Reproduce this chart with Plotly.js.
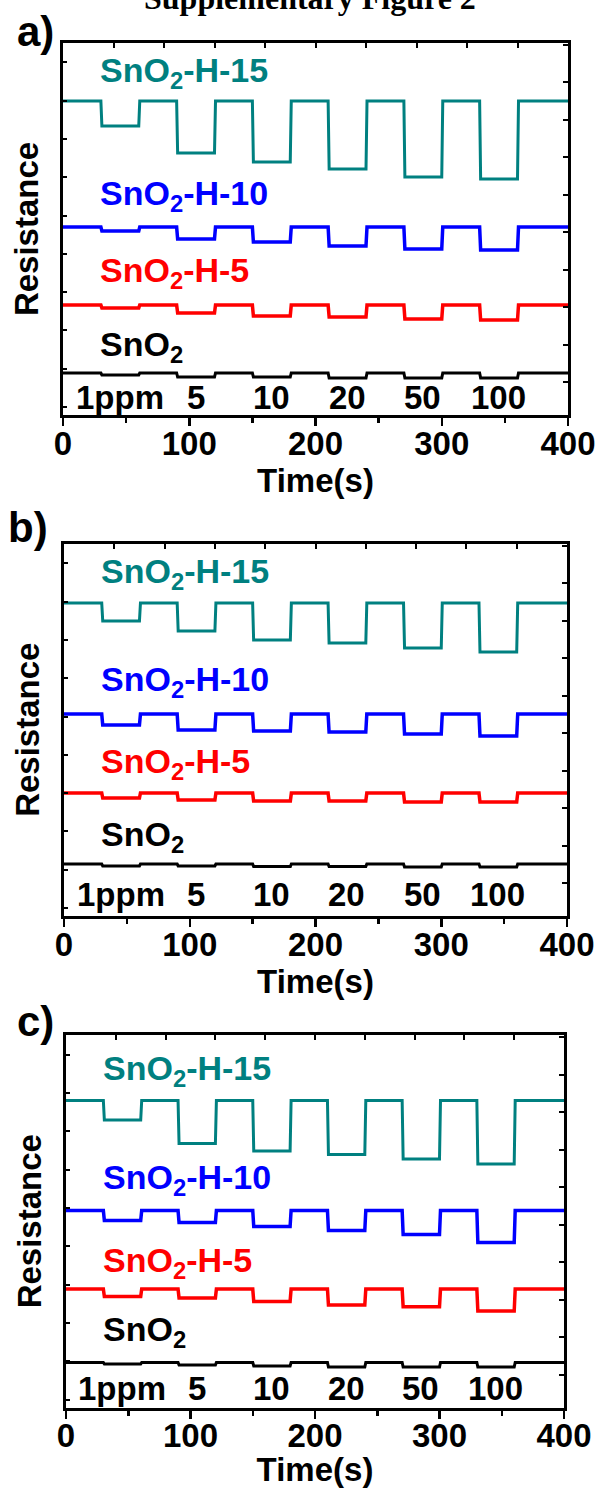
<!DOCTYPE html>
<html><head><meta charset="utf-8">
<script src="https://cdn.plot.ly/plotly-3.0.1.min.js"></script>
<style>html,body{margin:0;padding:0;background:#fff}#chart{width:598px;height:1488px}</style>
</head><body><div id="chart"></div>
<script>
// ---------- data ----------
const gasOn  = [30, 90, 150, 210, 270, 330];      // gas in (s)
const gasOff = [60, 120, 180, 240, 300, 360];     // gas out (s)
const timeEnd = 400;
const concLabels = ['1ppm', '5', '10', '20', '50', '100'];
const sampleNames = ['SnO<sub>2</sub>-H-15', 'SnO<sub>2</sub>-H-10', 'SnO<sub>2</sub>-H-5', 'SnO<sub>2</sub>'];
const panelTags = ['a)', 'b)', 'c)'];

// resistance (arbitrary units) : baseline in air, then level under each concentration
const aBase = [314, 188, 110, 42];
const aH15 = [289, 262, 253, 246, 238, 236];
const aH10 = [184, 176, 173, 169, 166, 165];
const aH5  = [107, 102, 99, 98, 96, 95];
const aSnO2 = [40, 38, 38, 37, 37, 37];

const bBase = [313, 202, 123, 52];
const bH15 = [295, 285, 276, 273, 268, 264];
const bH10 = [191, 186, 185, 184, 182, 180];
const bH5  = [118, 116, 115, 115, 114, 114];
const bSnO2 = [50, 50, 49.5, 49.5, 49, 49];

const cBase = [307, 197, 118.5, 45];
const cH15 = [287.5, 264, 256.5, 253, 248.5, 243.5];
const cH10 = [187, 185, 181, 177, 173, 165];
const cH5  = [111, 109.5, 106, 102.5, 100.7, 96.5];
const cSnO2 = [43.5, 42.5, 41.5, 40.5, 40.5, 40.5];

// label heights (same units)
const aLabelY = [343, 220, 143, 69, 18];
const bLabelY = [343, 235, 153, 80, 22];
const cLabelY = [337, 228, 145, 76, 19];

// ---------- styling ----------
const W = 598, H = 1488;
const colors = ['#008080', '#0000ff', '#ff0000', '#000000'];
const widths = [3, 3.5, 3.5, 3];
const SANS = 'Liberation Sans, Arial, sans-serif';
const panels = [
  {left: 63, right: 568, top: 43, bottom: 415, base: aBase, lows: [aH15, aH10, aH5, aSnO2], labelY: aLabelY, tagX: 35, tagY: 32},
  {left: 64, right: 567, top: 543.5, bottom: 916, base: bBase, lows: [bH15, bH10, bH5, bSnO2], labelY: bLabelY, tagX: 28, tagY: 527},
  {left: 66, right: 564, top: 1035, bottom: 1407.5, base: cBase, lows: [cH15, cH10, cH5, cSnO2], labelY: cLabelY, tagX: 35, tagY: 1022}
];
const edge = 0.8;

function stepTrace(base, lows) {
  const x = [0], y = [base];
  for (let i = 0; i < gasOn.length; i++) {
    x.push(gasOn[i], gasOn[i] + edge, gasOff[i], gasOff[i] + edge);
    y.push(base, lows[i], lows[i], base);
  }
  x.push(timeEnd); y.push(base);
  return {x, y};
}

const data = [];
const layout = {
  width: W, height: H,
  margin: {l: 0, r: 0, t: 0, b: 0},
  paper_bgcolor: '#fff', plot_bgcolor: '#fff',
  showlegend: false,
  annotations: [],
  font: {family: SANS, color: '#000'}
};

layout.annotations.push({
  text: '<b>Supplementary Figure 2</b>', xref: 'paper', yref: 'paper',
  x: 310 / W, y: 1 - 18 / H, xanchor: 'center', yanchor: 'bottom', showarrow: false,
  font: {family: 'Liberation Serif, Times New Roman, serif', size: 32, color: '#000'}
});

panels.forEach((p, i) => {
  const n = i + 1;
  const xs = n === 1 ? '' : String(n);
  const xId = 'x' + xs, yId = 'y' + xs;
  const topId = 'x' + (n + 3), rightId = 'y' + (n + 3);
  const yTop = p.bottom - p.top;

  p.lows.forEach((lows, k) => {
    const s = stepTrace(p.base[k], lows);
    data.push({
      type: 'scatter', mode: 'lines', x: s.x, y: s.y, xaxis: xId, yaxis: yId,
      name: sampleNames[k].replace(/<\/?sub>/g, ''),
      line: {color: colors[k], width: widths[k], shape: 'linear'}, hoverinfo: 'skip'
    });
    layout.annotations.push({
      text: '<b>' + sampleNames[k] + '</b>', xref: xId, yref: yId,
      x: 28, y: p.labelY[k], xanchor: 'left', yanchor: 'middle', showarrow: false,
      font: {family: SANS, size: 34, color: colors[k]}
    });
  });
  // empty traces so the extra top / right tick axes get drawn
  data.push({type: 'scatter', mode: 'lines', x: [], y: [], xaxis: topId, yaxis: yId, showlegend: false, hoverinfo: 'skip'});
  data.push({type: 'scatter', mode: 'lines', x: [], y: [], xaxis: xId, yaxis: rightId, showlegend: false, hoverinfo: 'skip'});

  concLabels.forEach((c, j) => {
    layout.annotations.push({
      text: '<b>' + c + '</b>', xref: xId, yref: yId,
      x: (gasOn[j] + gasOff[j]) / 2, y: p.labelY[4], xanchor: 'center', yanchor: 'middle', showarrow: false,
      font: {family: SANS, size: 33, color: '#000'}
    });
  });

  layout.annotations.push({
    text: '<b>' + panelTags[i] + '</b>', xref: 'paper', yref: 'paper',
    x: p.tagX / W, y: 1 - p.tagY / H, xanchor: 'center', yanchor: 'middle', showarrow: false,
    font: {family: SANS, size: 42, color: '#000'}
  });

  const xDom = [p.left / W, p.right / W];
  const yDom = [1 - p.bottom / H, 1 - p.top / H];

  layout['xaxis' + xs] = {
    domain: xDom, range: [0, timeEnd], anchor: yId,
    showline: true, linewidth: 3, linecolor: '#000', mirror: true,
    ticks: 'outside', ticklen: 8, tickwidth: 2.5, tickcolor: '#000',
    tick0: 0, dtick: 100, ticklabelstandoff: -11,
    minor: {ticks: 'outside', dtick: 50, ticklen: 5, tickwidth: 2.5, tickcolor: '#000'},
    tickfont: {family: SANS, size: 33, weight: 'bold', color: '#000'},
    showgrid: false, zeroline: false, fixedrange: true,
    title: {text: 'Time(s)', font: {family: SANS, size: 33, weight: 'bold', color: '#000'}, standoff: 0}
  };
  layout['yaxis' + xs] = {
    domain: yDom, range: [0, yTop], anchor: xId,
    showline: true, linewidth: 3, linecolor: '#000', mirror: true,
    ticks: 'inside', ticklen: 4, tickwidth: 2, tickcolor: '#000',
    tick0: 8, dtick: 38.3, showticklabels: false,
    showgrid: false, zeroline: false, fixedrange: true,
    title: {text: 'Resistance', font: {family: SANS, size: 33, weight: 'bold', color: '#000'}, standoff: 12}
  };
  layout['xaxis' + (n + 3)] = {
    overlaying: xId, side: 'top', anchor: yId, range: [0, timeEnd],
    ticks: 'inside', ticklen: 5, tickwidth: 2, tickcolor: '#000',
    tick0: 0, dtick: 40, showticklabels: false, showline: false,
    showgrid: false, zeroline: false, fixedrange: true
  };
  layout['yaxis' + (n + 3)] = {
    overlaying: yId, side: 'right', anchor: xId, range: [0, yTop],
    ticks: 'inside', ticklen: 5, tickwidth: 2, tickcolor: '#000',
    tick0: 33, dtick: 37.5, showticklabels: false, showline: false,
    showgrid: false, zeroline: false, fixedrange: true
  };
});

Plotly.newPlot('chart', data, layout, {displayModeBar: false, staticPlot: true});
</script>
</body></html>
